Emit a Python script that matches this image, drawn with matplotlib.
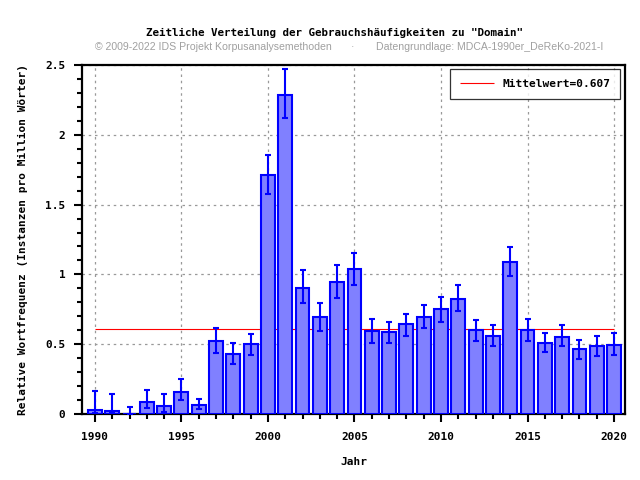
import matplotlib
matplotlib.use("Agg")
import matplotlib.pyplot as plt
from matplotlib.ticker import MultipleLocator, FuncFormatter

# values
years = list(range(1990, 2021))
freq = [0.03, 0.02, 0.003, 0.085, 0.058, 0.158, 0.066, 0.525, 0.427, 0.499,
        1.714, 2.287, 0.906, 0.693, 0.943, 1.036, 0.592, 0.585, 0.642, 0.697,
        0.750, 0.826, 0.599, 0.561, 1.091, 0.599, 0.511, 0.554, 0.463, 0.485,
        0.497]
err_low = [0.008, 0.006, 0.0, 0.043, 0.011, 0.100, 0.033, 0.439, 0.360, 0.425,
           1.576, 2.122, 0.797, 0.595, 0.834, 0.924, 0.511, 0.511, 0.559, 0.616,
           0.659, 0.740, 0.525, 0.487, 0.991, 0.525, 0.444, 0.487, 0.394, 0.415,
           0.423]
err_high = [0.165, 0.141, 0.050, 0.170, 0.141, 0.253, 0.108, 0.618, 0.511, 0.575,
            1.855, 2.474, 1.031, 0.797, 1.070, 1.155, 0.683, 0.661, 0.719, 0.783,
            0.840, 0.926, 0.673, 0.638, 1.199, 0.681, 0.580, 0.638, 0.532, 0.559,
            0.580]
mean_value = 0.607

title = 'Zeitliche Verteilung der Gebrauchshäufigkeiten zu "Domain"'
credit = "© 2009-2022 IDS Projekt Korpusanalysemethoden"
source = "Datengrundlage: MDCA-1990er_DeReKo-2021-I"

mono = "DejaVu Sans Mono"
blue = "#0000ff"

fig = plt.figure(figsize=(6.4, 4.8), dpi=100)
ax = fig.add_axes([0.128, 0.1375, 0.849, 0.727])

yerr = [[f - lo for f, lo in zip(freq, err_low)],
        [hi - f for f, hi in zip(freq, err_high)]]

ax.bar(years, freq, width=0.8, color="#8080ff", edgecolor=blue,
       linewidth=1.5, zorder=3)
ax.errorbar(years, freq, yerr=yerr, fmt="none", ecolor=blue,
            elinewidth=1.5, capsize=2.2, capthick=1.5, zorder=4)

ax.hlines(mean_value, years[0], years[-1], colors="#ff0000", linewidth=0.8,
          zorder=2, label="Mittelwert=%.3f" % mean_value)

ax.set_xlim(1989.25, 2020.65)
ax.set_ylim(0, 2.5)

ax.xaxis.set_major_locator(MultipleLocator(5))
ax.xaxis.set_minor_locator(MultipleLocator(1))
ax.yaxis.set_major_locator(MultipleLocator(0.5))
ax.yaxis.set_minor_locator(MultipleLocator(0.1))
ax.yaxis.set_major_formatter(FuncFormatter(lambda v, p: "%g" % v))

ax.tick_params(which="major", direction="out", length=6, width=1.5,
               labelsize=8, pad=7)
ax.tick_params(axis="y", which="major", pad=6)
ax.tick_params(which="minor", direction="out", length=3.5, width=1.5)
for lab in ax.get_xticklabels() + ax.get_yticklabels():
    lab.set_fontfamily(mono)
    lab.set_fontweight("bold")

ax.grid(True, which="major", color="#999999", linestyle=(0, (2, 3)),
        linewidth=0.9, zorder=0)
ax.set_axisbelow(True)

for sp in ax.spines.values():
    sp.set_linewidth(1.6)
    sp.set_color("black")

ax.set_xlabel("Jahr", fontfamily=mono, fontweight="bold", fontsize=8,
              labelpad=11)
ax.set_ylabel("Relative Wortfrequenz (Instanzen pro Million Wörter)",
              fontfamily=mono, fontweight="bold", fontsize=8, labelpad=12)

leg = ax.legend(loc="upper right", prop={"family": mono, "weight": "bold",
                                         "size": 8},
                frameon=True, fancybox=False, edgecolor="black",
                handlelength=3, borderpad=0.9, borderaxespad=0,
                bbox_to_anchor=(0.991, 0.989))
leg.get_frame().set_linewidth(0.9)

fig.text(0.523, 0.931, title, ha="center", va="center", fontfamily=mono,
         fontweight="bold", fontsize=7.8)
fig.text(0.148, 0.902, credit, ha="left", va="center",
         fontfamily="Liberation Sans", fontsize=7.6, color="#a0a0a0")
fig.text(0.551, 0.902, "·", ha="center", va="center",
         fontfamily="Liberation Sans", fontsize=7.6, color="#a0a0a0")
fig.text(0.587, 0.902, source, ha="left", va="center",
         fontfamily="Liberation Sans", fontsize=7.6, color="#a0a0a0")

fig.savefig("out.png", dpi=100)
